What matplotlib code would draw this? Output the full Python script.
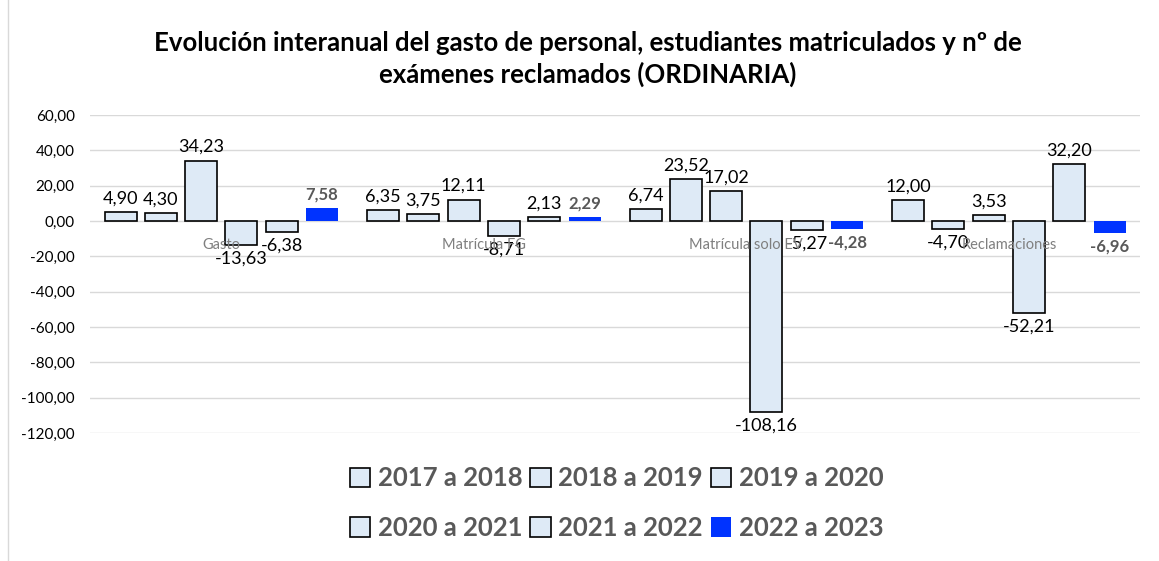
import numpy as np
import matplotlib.pyplot as plt
from matplotlib.ticker import FuncFormatter

categorias = ['Gasto', 'Matrícula FG', 'Matrícula solo EV', 'Reclamaciones']
series = ['2017 a 2018', '2018 a 2019', '2019 a 2020',
          '2020 a 2021', '2021 a 2022', '2022 a 2023']

v_2017_2018 = [4.90, 6.35, 6.74, 12.00]
v_2018_2019 = [4.30, 3.75, 23.52, -4.70]
v_2019_2020 = [34.23, 12.11, 17.02, 3.53]
v_2020_2021 = [-13.63, -8.71, -108.16, -52.21]
v_2021_2022 = [-6.38, 2.13, -5.27, 32.20]
v_2022_2023 = [7.58, 2.29, -4.28, -6.96]

valores = [v_2017_2018, v_2018_2019, v_2019_2020,
           v_2020_2021, v_2021_2022, v_2022_2023]

plt.rcParams['font.family'] = ['Lato', 'DejaVu Sans']

fig = plt.figure(figsize=(11.59, 5.61), dpi=100)
ax = fig.add_axes([0.0777, 0.228, 0.906, 0.567])

x = np.arange(len(categorias))
paso = 0.1535
ancho = 0.122
claro = '#DEEAF6'
azul = '#0033FF'

barras_todas = []
for i, (nombre, vals) in enumerate(zip(series, valores)):
    pos = x + (i - 2.5) * paso
    etiquetas = [f'{v:.2f}'.replace('.', ',') for v in vals]
    if i == 5:
        barras = ax.bar(pos, vals, ancho, color=azul, edgecolor='none',
                        label=nombre, zorder=3)
        ax.bar_label(barras, labels=etiquetas, padding=4, fontsize=12,
                     fontweight='bold', color='#595959')
    else:
        barras = ax.bar(pos, vals, ancho, color=claro, edgecolor='black',
                        linewidth=1.2, label=nombre, zorder=3)
        ax.bar_label(barras, labels=etiquetas, padding=4, fontsize=13, color='black')
    barras_todas.append(barras)

ax.set_ylim(-120, 60)
ax.set_xlim(-0.5, 3.5)
ax.set_yticks(np.arange(-120, 61, 20))
ax.yaxis.set_major_formatter(FuncFormatter(lambda v, p: f'{v:.2f}'.replace('.', ',')))
ax.tick_params(axis='y', length=0, labelsize=11, pad=11)
ax.grid(axis='y', color='#D9D9D9', linewidth=1, zorder=0)

ax.spines['bottom'].set_position(('data', 0))
ax.spines['bottom'].set_visible(False)
for s in ['top', 'right', 'left']:
    ax.spines[s].set_visible(False)
ax.set_xticks(x)
ax.set_xticklabels(categorias, fontsize=10.5, color='#7F7F7F')
ax.tick_params(axis='x', length=0, pad=12)
ax.xaxis.set_zorder(5)

fig.suptitle('Evolución interanual del gasto de personal, estudiantes matriculados y nº de\n'
             'exámenes reclamados (ORDINARIA)',
             x=0.507, y=0.945, fontsize=18.5, fontweight='bold', linespacing=1.3)

# orden por filas en la leyenda (matplotlib rellena por columnas)
orden = [0, 3, 1, 4, 2, 5]
leg = fig.legend([barras_todas[k] for k in orden], [series[k] for k in orden],
                 loc='center', bbox_to_anchor=(0.532, 0.103), ncol=3, frameon=False,
                 prop={'size': 18.5, 'weight': 'bold'}, handlelength=0.8, handleheight=0.8,
                 handletextpad=0.3, columnspacing=0.3, labelspacing=1.0)
for t in leg.get_texts():
    t.set_color('#595959')

fig.add_artist(plt.Line2D([0.007, 0.007], [0, 1], color='#D9D9D9', linewidth=1))

fig.savefig('out.png', dpi=100)
